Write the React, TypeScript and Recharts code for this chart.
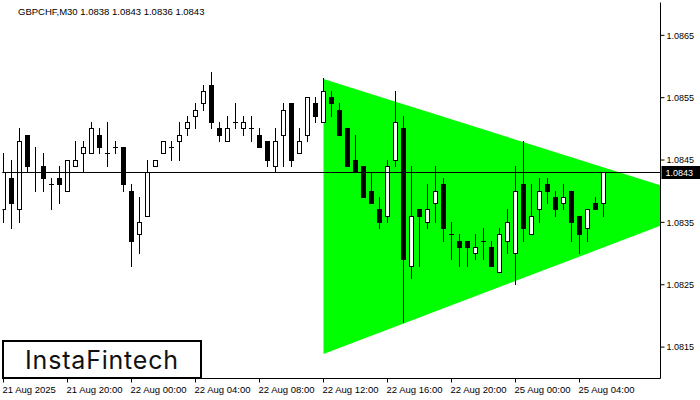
import React from 'react';
import { ComposedChart, Bar, Area, XAxis, YAxis, ReferenceLine } from 'recharts';

// GBPCHF M30, one entry per bar (index = bar number from the left edge)
const opens = [
  1.0837, 1.0842, 1.0837, 1.0849, 1.0843, 1.0844, 1.0841, 1.0842, 1.0840, 1.0844,
  1.0846, 1.0846, 1.0849, 1.0846, 1.0847, 1.0847, 1.0840, 1.0833, 1.0836, 1.0844,
  1.0846, 1.0847, 1.0848, 1.0850, 1.0852, 1.0854, 1.0857, 1.0850, 1.0848, 1.0851,
  1.0850, 1.0850, 1.0849, 1.0848, 1.0844, 1.0849, 1.0854, 1.0846, 1.0849, 1.0854,
  1.0851, 1.0855, 1.0853, 1.0850, 1.0845, 1.0844, 1.0840, 1.0837, 1.0836, 1.0845,
  1.0850, 1.0828, 1.0837, 1.0835, 1.0838, 1.0841, 1.0833, 1.0832, 1.0832, 1.0830,
  1.0832, 1.0831, 1.0827, 1.0832, 1.0830, 1.0841, 1.0833, 1.0837, 1.0841, 1.0839,
  1.0838, 1.0840, 1.0836, 1.0834, 1.0838, 1.0838,
];
const highs = [
  1.0846, 1.0845, 1.0850, 1.0849, 1.0847, 1.0846, 1.0842, 1.0844, 1.0845, 1.0848,
  1.0848, 1.0851, 1.0850, 1.0851, 1.0848, 1.0847, 1.0841, 1.0839, 1.0845, 1.0845,
  1.0848, 1.0848, 1.0851, 1.0852, 1.0854, 1.0857, 1.0859, 1.0851, 1.0852, 1.0854,
  1.0852, 1.0852, 1.0850, 1.0848, 1.0850, 1.0854, 1.0854, 1.0850, 1.0855, 1.0855,
  1.0858, 1.0856, 1.0854, 1.0850, 1.0849, 1.0844, 1.0843, 1.0839, 1.0845, 1.0856,
  1.0852, 1.0844, 1.0837, 1.0841, 1.0844, 1.0842, 1.0835, 1.0833, 1.0832, 1.0833,
  1.0834, 1.0832, 1.0834, 1.0837, 1.0844, 1.0848, 1.0841, 1.0842, 1.0842, 1.0840,
  1.0841, 1.0840, 1.0836, 1.0837, 1.0839, 1.0843,
];
const lows = [
  1.0835, 1.0834, 1.0835, 1.0843, 1.0840, 1.0840, 1.0837, 1.0838, 1.0840, 1.0844,
  1.0843, 1.0846, 1.0846, 1.0844, 1.0846, 1.0840, 1.0828, 1.0830, 1.0836, 1.0844,
  1.0846, 1.0845, 1.0845, 1.0849, 1.0850, 1.0853, 1.0850, 1.0848, 1.0848, 1.0850,
  1.0849, 1.0848, 1.0847, 1.0844, 1.0843, 1.0844, 1.0844, 1.0846, 1.0848, 1.0851,
  1.0851, 1.0852, 1.0849, 1.0844, 1.0843, 1.0839, 1.0838, 1.0834, 1.0835, 1.0844,
  1.0819, 1.0826, 1.0828, 1.0834, 1.0835, 1.0832, 1.0829, 1.0828, 1.0828, 1.0829,
  1.0829, 1.0828, 1.0827, 1.0830, 1.0825, 1.0832, 1.0833, 1.0835, 1.0838, 1.0836,
  1.0837, 1.0832, 1.0830, 1.0832, 1.0837, 1.0836,
];
const closes = [
  1.0843, 1.0838, 1.0848, 1.0844, 1.0843, 1.0842, 1.0841, 1.0841, 1.0845, 1.0845,
  1.0847, 1.0850, 1.0847, 1.0846, 1.0847, 1.0841, 1.0832, 1.0835, 1.0843, 1.0845,
  1.0848, 1.0847, 1.0849, 1.0851, 1.0853, 1.0856, 1.0851, 1.0849, 1.0850, 1.0851,
  1.0851, 1.0850, 1.0847, 1.0845, 1.0848, 1.0853, 1.0845, 1.0848, 1.0855, 1.0852,
  1.0856, 1.0854, 1.0849, 1.0844, 1.0843, 1.0839, 1.0838, 1.0835, 1.0844, 1.0851,
  1.0829, 1.0836, 1.0836, 1.0837, 1.0840, 1.0834, 1.0833, 1.0831, 1.0831, 1.0831,
  1.0832, 1.0828, 1.0833, 1.0835, 1.0840, 1.0834, 1.0836, 1.0840, 1.0840, 1.0837,
  1.0839, 1.0835, 1.0833, 1.0837, 1.0837, 1.0843,
];

// symmetrical triangle pattern: start bar (wide side) and apex
const triBars = [40, 89.4];
const triLows = [1.08139, 1.0838];
const triHighs = [1.0858, 1.0838];

const timeTicks = [0, 8, 16, 24, 32, 40, 48, 56, 64, 72];
const timeLabels = [
  '21 Aug 2025', '21 Aug 20:00', '22 Aug 00:00', '22 Aug 04:00', '22 Aug 08:00',
  '22 Aug 12:00', '22 Aug 16:00', '22 Aug 20:00', '25 Aug 00:00', '25 Aug 04:00',
];
const priceTicks = [1.0815, 1.0825, 1.0835, 1.0845, 1.0855, 1.0865];

const FONT = '"Liberation Sans", Arial, sans-serif';
const X_DOMAIN: [number, number] = [-0.125, 82.125];
const Y_DOMAIN: [number, number] = [1.0809963, 1.0870263];

const last = opens.length - 1;
const lastPrice = closes[last];

const rows: any[] = opens.map((o, i) => ({ i, o, h: highs[i], l: lows[i], c: closes[i] }));
triBars.forEach((b, j) => {
  const row = rows.find((r) => r.i === b);
  if (row) row.tri = [triLows[j], triHighs[j]];
  else rows.push({ i: b, tri: [triLows[j], triHighs[j]] });
});

const snap = (v: number) => Math.round(v - 0.5) + 0.5;

function Candle(props: any) {
  const { x, y, width, height, payload } = props;
  if (!payload || payload.o == null) return null;
  const { o, h, l, c } = payload;
  const span = h - l || 1;
  const py = (p: number) => y + ((h - p) / span) * height;
  const cx = snap(x + width / 2);
  const top = snap(py(Math.max(o, c)));
  const bot = snap(py(Math.min(o, c)));
  const bull = c > o;
  return (
    <g>
      <line x1={cx} x2={cx} y1={snap(py(h)) - 0.5} y2={snap(py(l)) + 0.5} stroke="#000" strokeWidth={1} />
      {bot - top < 1 ? (
        <line x1={cx - 2.5} x2={cx + 2.5} y1={top} y2={top} stroke="#000" strokeWidth={1} />
      ) : (
        <rect x={cx - 2} y={top} width={4} height={bot - top} fill={bull ? '#fff' : '#000'} stroke="#000" strokeWidth={1} />
      )}
    </g>
  );
}

function TimeTick(props: any) {
  const { x, y, payload } = props;
  const label = timeLabels[timeTicks.indexOf(payload.value)];
  return (
    <text x={x - 1} y={y + 8} textAnchor="start" fontSize={9.5} fontFamily={FONT} fill="#000">
      {label}
    </text>
  );
}

function PriceTag(props: any) {
  const vb = props.viewBox || {};
  const right = vb.x + vb.width;
  return (
    <g>
      <rect x={right + 1} y={vb.y - 6.5} width={40} height={13} fill="#000" />
      <text x={right + 5} y={vb.y + 3.5} fontSize={9} fontFamily={FONT} fill="#fff">
        {lastPrice.toFixed(4)}
      </text>
    </g>
  );
}

export default function App() {
  const title = `GBPCHF,M30 ${opens[last].toFixed(4)} ${highs[last].toFixed(4)} ${lows[last].toFixed(4)} ${closes[last].toFixed(4)}`;
  return (
    <div style={{ position: 'fixed', left: 0, top: 0, width: 700, height: 400, background: '#fff', overflow: 'hidden' }}>
      <ComposedChart width={700} height={400} data={rows} margin={{ top: 2.5, right: 0, bottom: 0, left: 2.5 }}>
        <XAxis
          dataKey="i"
          type="number"
          domain={X_DOMAIN}
          allowDataOverflow
          ticks={timeTicks}
          interval={0}
          tick={<TimeTick />}
          tickSize={4}
          tickMargin={2}
          tickLine={{ stroke: '#000' }}
          axisLine={{ stroke: '#000' }}
          height={21.5}
        />
        <XAxis xAxisId="top" orientation="top" type="number" domain={X_DOMAIN} allowDataOverflow height={0} tick={false} tickLine={false} axisLine={{ stroke: '#000' }} />
        <YAxis
          orientation="right"
          type="number"
          domain={Y_DOMAIN}
          allowDataOverflow
          ticks={priceTicks}
          interval={0}
          tickFormatter={(v: number) => v.toFixed(4)}
          tick={{ fontSize: 9, fontFamily: FONT, fill: '#000' }}
          tickSize={4}
          tickMargin={2}
          tickLine={{ stroke: '#000' }}
          axisLine={{ stroke: '#000' }}
          width={39.5}
        />
        <YAxis yAxisId="left" orientation="left" width={0} tick={false} tickLine={false} axisLine={{ stroke: '#000' }} />
        <Area
          type="linear"
          dataKey="tri"
          fill="#00ff00"
          fillOpacity={1}
          stroke="none"
          connectNulls
          dot={false}
          activeDot={false}
          isAnimationActive={false}
        />
        <Bar
          dataKey={(d: any) => (d.h == null ? null : [d.l, d.h])}
          barSize={5}
          shape={<Candle />}
          isAnimationActive={false}
        />
        <ReferenceLine y={lastPrice} stroke="#000" strokeWidth={1} label={(p: any) => <PriceTag {...p} />} />
      </ComposedChart>
      <div style={{ position: 'absolute', left: 18, top: 6, fontSize: 9.5, fontFamily: FONT, color: '#000', whiteSpace: 'nowrap', lineHeight: '11px' }}>
        {title}
      </div>
      <div
        style={{
          position: 'absolute', left: 2, top: 340, width: 196, height: 35, border: '2px solid #000', background: '#fff',
          display: 'flex', alignItems: 'center', justifyContent: 'center',
          fontFamily: 'Inter, "Open Sans", sans-serif', fontSize: 25, fontWeight: 400, color: '#111', letterSpacing: 0.8,
        }}
      >
        InstaFintech
      </div>
    </div>
  );
}
